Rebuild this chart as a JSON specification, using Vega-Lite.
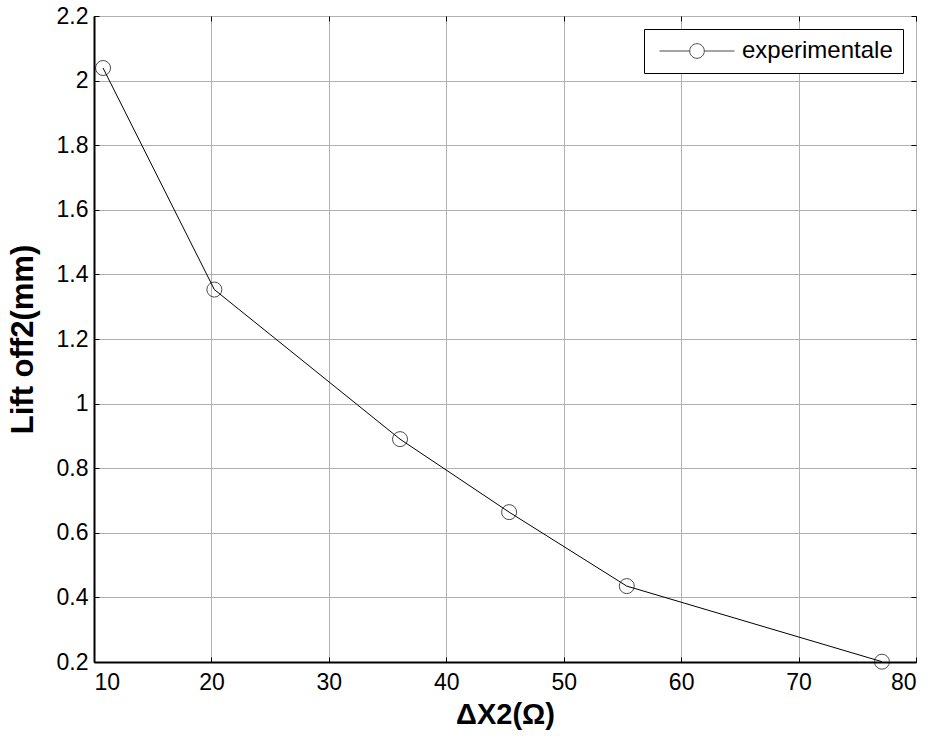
{
  "$schema": "https://vega.github.io/schema/vega-lite/v6.json",
  "width": 822,
  "height": 646,
  "autosize": "none",
  "padding": {"left": 94, "top": 16, "right": 13, "bottom": 74},
  "background": "white",
  "config": {
    "font": "Liberation Sans",
    "view": {"stroke": "black", "strokeWidth": 1}
  },
  "data": {
    "values": [
      {"x": 10.77, "y": 2.039, "series": "experimentale"},
      {"x": 20.25, "y": 1.353, "series": "experimentale"},
      {"x": 36.06, "y": 0.890, "series": "experimentale"},
      {"x": 45.35, "y": 0.664, "series": "experimentale"},
      {"x": 55.37, "y": 0.435, "series": "experimentale"},
      {"x": 77.1, "y": 0.201, "series": "experimentale"}
    ]
  },
  "layer": [
    {
      "mark": {"type": "line", "color": "black", "strokeWidth": 1},
      "encoding": {
        "x": {
          "field": "x", "type": "quantitative",
          "scale": {"domain": [10, 80], "nice": false, "zero": false},
          "axis": {
            "title": "ΔX2(Ω)", "values": [10, 20, 30, 40, 50, 60, 70, 80],
            "titleFontSize": 29, "titleFontWeight": "bold", "titleColor": "black", "titlePadding": 6,
            "labelFontSize": 23, "labelColor": "black", "labelPadding": 14,
            "domainColor": "black", "domainWidth": 2,
            "tickColor": "black", "tickSize": -5, "tickWidth": 1,
            "grid": true, "gridColor": "#b0b0b0", "gridWidth": 1, "gridOpacity": 1
          }
        },
        "y": {
          "field": "y", "type": "quantitative",
          "scale": {"domain": [0.2, 2.2], "nice": false, "zero": false},
          "axis": {
            "title": "Lift off2(mm)", "values": [0.2, 0.4, 0.6, 0.8, 1, 1.2, 1.4, 1.6, 1.8, 2, 2.2],
            "format": "~g",
            "titleFontSize": 31, "titleFontWeight": "bold", "titleColor": "black", "titlePadding": 17,
            "labelFontSize": 23, "labelColor": "black", "labelPadding": 11,
            "domainColor": "black", "domainWidth": 2,
            "tickColor": "black", "tickSize": -5, "tickWidth": 1,
            "grid": true, "gridColor": "#b0b0b0", "gridWidth": 1, "gridOpacity": 1
          }
        }
      }
    },
    {
      "mark": {"type": "point", "filled": false, "size": 225, "strokeWidth": 1},
      "encoding": {
        "x": {"field": "x", "type": "quantitative", "axis": null},
        "y": {"field": "y", "type": "quantitative", "axis": null},
        "color": {
          "field": "series", "type": "nominal",
          "scale": {"range": ["black"]},
          "legend": {
            "title": null,
            "orient": "top-right",
            "offset": 13,
            "symbolType": "M-5,0L-0.973,0M0.973,0L5,0M-0.973,0A0.973,0.973,0,1,1,0.973,0A0.973,0.973,0,1,1,-0.973,0",
            "symbolSize": 225,
            "symbolOffset": 31,
            "symbolStrokeColor": "black",
            "symbolStrokeWidth": 1,
            "symbolFillColor": "transparent",
            "labelFontSize": 24,
            "labelColor": "black",
            "labelOffset": 33,
            "labelLimit": 300,
            "padding": 10,
            "strokeColor": "black",
            "fillColor": "white",
            "cornerRadius": 0
          }
        }
      }
    },
    {
      "mark": {"type": "point", "opacity": 0},
      "encoding": {
        "x": {
          "field": "x", "type": "quantitative",
          "axis": {
            "orient": "top", "title": null, "labels": false, "domain": false, "grid": false,
            "values": [10, 20, 30, 40, 50, 60, 70, 80],
            "tickColor": "black", "tickSize": -5, "tickWidth": 1
          }
        },
        "y": {
          "field": "y", "type": "quantitative",
          "axis": {
            "orient": "right", "title": null, "labels": false, "domain": false, "grid": false,
            "values": [0.2, 0.4, 0.6, 0.8, 1, 1.2, 1.4, 1.6, 1.8, 2, 2.2],
            "tickColor": "black", "tickSize": -5, "tickWidth": 1
          }
        }
      }
    }
  ],
  "resolve": {"axis": {"x": "independent", "y": "independent"}}
}
